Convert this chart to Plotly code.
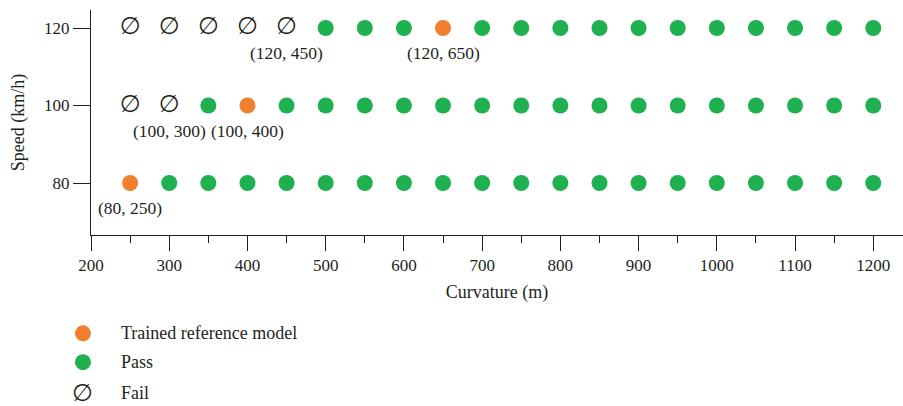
import plotly.graph_objects as go

# Test grid: curvature radius (m) and design speed (km/h)
curvatures = list(range(250, 1201, 50))
speeds = [80, 100, 120]

# Reference models used for training
ref_speed = [80, 100, 120]
ref_curv = [250, 400, 650]

# Cases that failed
fail_speed = [100, 100, 120, 120, 120, 120, 120]
fail_curv = [250, 300, 250, 300, 350, 400, 450]

# Labelled points
label_speed = [120, 120, 100, 100, 80]
label_curv = [450, 650, 300, 400, 250]

ORANGE = "#F07F2F"
GREEN = "#1FB04F"
SERIF = "Liberation Serif"
TEXT = "#231F20"

special = set(zip(ref_speed, ref_curv)) | set(zip(fail_speed, fail_curv))
pass_speed, pass_curv = [], []
for s in speeds:
    for c in curvatures:
        if (s, c) not in special:
            pass_speed.append(s)
            pass_curv.append(c)

fig = go.Figure()
fig.add_trace(go.Scatter(
    x=pass_curv, y=pass_speed, mode="markers", name="Pass",
    marker=dict(color=GREEN, size=16, line=dict(width=0)), showlegend=False))
fig.add_trace(go.Scatter(
    x=ref_curv, y=ref_speed, mode="markers", name="Trained reference model",
    marker=dict(color=ORANGE, size=16, line=dict(width=0)), showlegend=False))
fig.add_trace(go.Scatter(
    x=fail_curv, y=fail_speed, mode="text", name="Fail",
    text=["∅"] * len(fail_curv), textposition="middle center",
    textfont=dict(family="DejaVu Sans", size=24, color=TEXT), showlegend=False))

for s, c in zip(label_speed, label_curv):
    fig.add_annotation(x=c, y=s, xref="x", yref="y", text=f"({s}, {c})",
                       showarrow=False, yshift=-25,
                       font=dict(family=SERIF, size=17.5, color=TEXT))

# Legend drawn below the axes
legend_items = [("Trained reference model", ORANGE), ("Pass", GREEN), ("Fail", None)]
legend_y = [-0.437, -0.565, -0.70]
for (label, color), ly in zip(legend_items, legend_y):
    if color is not None:
        fig.add_shape(type="circle", xref="paper", yref="paper",
                      xsizemode="pixel", ysizemode="pixel",
                      xanchor=-0.0099, yanchor=ly, x0=-8, x1=8, y0=-8, y1=8,
                      fillcolor=color, line=dict(width=0))
    else:
        fig.add_annotation(x=-0.0099, y=ly, xref="paper", yref="paper", text="∅",
                           showarrow=False, xanchor="center", yanchor="middle",
                           font=dict(family="DejaVu Sans", size=24, color=TEXT))
    fig.add_annotation(x=0.035, y=ly, xref="paper", yref="paper", text=label,
                       showarrow=False, xanchor="left", yanchor="middle",
                       font=dict(family=SERIF, size=18, color=TEXT))

fig.update_layout(
    width=903, height=406,
    margin=dict(l=91, r=0, t=10, b=171),
    plot_bgcolor="white", paper_bgcolor="white",
    font=dict(family=SERIF, size=17, color=TEXT),
    showlegend=False,
)
fig.update_xaxes(
    range=[200, 1238], tickvals=list(range(200, 1201, 100)),
    showline=True, linecolor=TEXT, linewidth=1, mirror=False,
    ticks="outside", ticklen=15, tickcolor=TEXT, tickwidth=1,
    minor=dict(tickvals=list(range(250, 1201, 100)), ticks="outside",
               ticklen=7, tickcolor=TEXT, tickwidth=1, showgrid=False),
    showgrid=False, zeroline=False,
    title=dict(text="Curvature (m)", standoff=10, font=dict(size=18)),
    tickfont=dict(size=17),
)
fig.update_yaxes(
    range=[66.58, 124.65], tickvals=speeds,
    showline=True, linecolor=TEXT, linewidth=1,
    ticks="outside", ticklen=17, tickcolor=TEXT, tickwidth=1,
    showgrid=False, zeroline=False,
    title=dict(text="Speed (km/h)", standoff=14, font=dict(size=18)),
    tickfont=dict(size=17),
)

fig.write_html("out.html")
